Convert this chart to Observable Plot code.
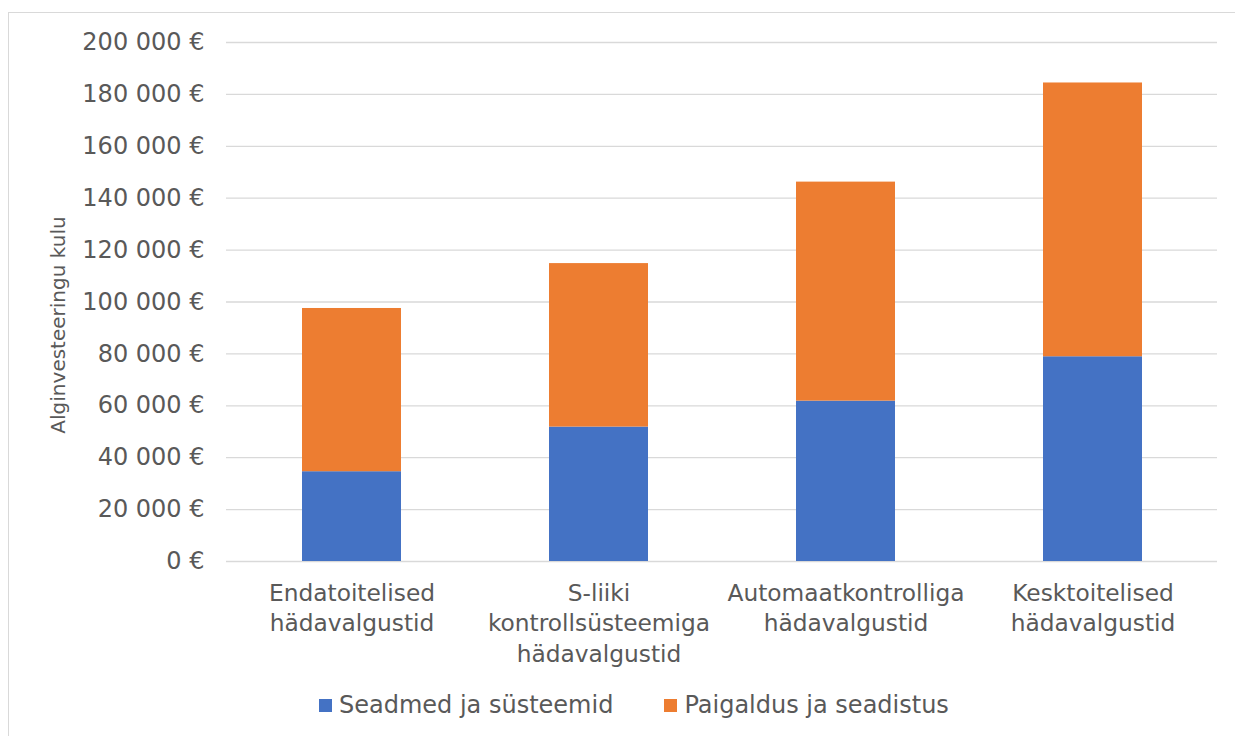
<!DOCTYPE html>
<html>
<head>
<meta charset="utf-8">
<script src="https://cdn.jsdelivr.net/npm/d3@7"></script>
<script src="https://cdn.jsdelivr.net/npm/@observablehq/plot@0.6"></script>
<style>
  html, body { margin: 0; padding: 0; background: #fff; overflow: hidden; }
  body { width: 1235px; height: 736px; position: relative; font-family: Verdana, "DejaVu Sans", sans-serif; }
  #frame { position: absolute; left: 8px; top: 12px; width: 1260px; height: 760px; border: 1.3px solid #d9d9d9; box-sizing: border-box; pointer-events: none; }
  #chart { position: absolute; left: 0; top: 0; }
  #legend { position: absolute; left: 319px; top: 690px; height: 30px; display: flex; align-items: center; font-size: 24px; color: #595959; white-space: nowrap; }
  .item { display: flex; align-items: center; }
  .item + .item { margin-left: 51px; }
  .swatch { width: 13px; height: 13px; margin-right: 7px; }
</style>
</head>
<body>
<div id="frame"></div>
<div id="chart"></div>
<div id="legend"></div>
<script>
// Initial investment cost per emergency lighting type, split into two cost components
const categories = [
  "Endatoitelised\nhädavalgustid",
  "S-liiki\nkontrollsüsteemiga\nhädavalgustid",
  "Automaatkontrolliga\nhädavalgustid",
  "Kesktoitelised\nhädavalgustid"
];
const seriesNames = ["Seadmed ja süsteemid", "Paigaldus ja seadistus"];
const seriesColors = ["#4472C4", "#ED7D31"];
const seadmed = [34600, 51800, 61800, 78900];
const paigaldus = [62900, 63000, 84400, 105500];
const yTicks = [0, 20000, 40000, 60000, 80000, 100000, 120000, 140000, 160000, 180000, 200000];
const yTitle = "Alginvesteeringu kulu";

// Long-format rows: equipment first so it stacks at the bottom
const rows = [
  ...categories.map((c, i) => ({category: c, series: seriesNames[0], value: seadmed[i]})),
  ...categories.map((c, i) => ({category: c, series: seriesNames[1], value: paigaldus[i]}))
];

const euro = (v) => d3.format(",")(v).replace(/,/g, "\u00a0") + "\u00a0€";
const textColor = "#595959";

const chart = Plot.plot({
  width: 1235,
  height: 690,
  marginTop: 42,
  marginBottom: 129,
  marginLeft: 226,
  marginRight: 18,
  style: {fontFamily: 'Verdana, "DejaVu Sans", sans-serif', fontSize: "23px", color: textColor, background: "transparent"},
  x: {domain: categories, paddingInner: 0.6, paddingOuter: 0.3, label: null},
  y: {domain: [0, 200000], label: null},
  color: {domain: seriesNames, range: seriesColors},
  marks: [
    Plot.gridY(yTicks, {stroke: "#d9d9d9", strokeOpacity: 1, strokeWidth: 1.3}),
    Plot.barY(rows, {x: "category", y: "value", fill: "series", order: seriesNames}),
    Plot.axisY(yTicks, {tickSize: 0, tickPadding: 22, tickFormat: euro, fill: textColor, fontSize: 24, label: null}),
    Plot.axisX({tickSize: 0, tickPadding: 18, fill: textColor, fontSize: 23.3, lineHeight: 1.3, label: null}),
    Plot.text([yTitle], {
      frameAnchor: "left", rotate: -90, dx: -168, dy: 23,
      fill: textColor, fontSize: 20, textAnchor: "middle", lineAnchor: "middle"
    })
  ]
});
document.getElementById("chart").appendChild(chart);

// Legend below the plot
const legend = document.getElementById("legend");
seriesNames.forEach((name, i) => {
  const item = document.createElement("div");
  item.className = "item";
  const sw = document.createElement("span");
  sw.className = "swatch";
  sw.style.background = seriesColors[i];
  const label = document.createElement("span");
  label.textContent = name;
  item.append(sw, label);
  legend.appendChild(item);
});
</script>
</body>
</html>
